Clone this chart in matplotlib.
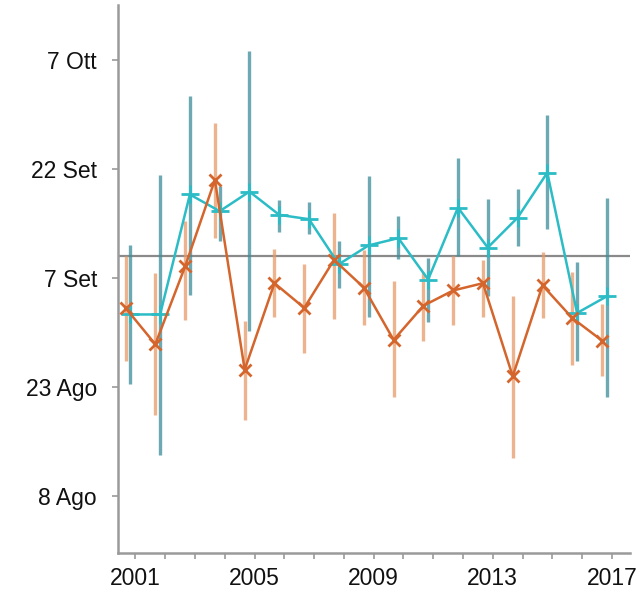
import numpy as np
import matplotlib
matplotlib.use("Agg")
import matplotlib.pyplot as plt

plt.rcParams['font.family'] = ['Liberation Sans', 'DejaVu Sans']

# anni e date (giorno dell'anno)
years = np.arange(2001, 2018)

# serie arancione: media, estremo inferiore, estremo superiore
orange_mid = [245.9, 240.9, 251.6, 263.5, 237.4, 249.3, 245.9, 252.5, 248.7,
              241.5, 246.2, 248.3, 249.3, 236.5, 249.0, 244.5, 241.4]
orange_lo = [238.6, 231.2, 244.3, 255.5, 230.5, 244.7, 239.7, 244.4, 243.6,
             233.7, 241.3, 243.5, 244.7, 225.3, 244.5, 238.1, 236.5]
orange_hi = [253.0, 250.7, 257.8, 271.3, 244.1, 254.0, 252.0, 259.0, 253.9,
             249.6, 250.9, 253.1, 252.5, 247.5, 253.6, 250.9, 246.4]

# serie azzurra
teal_mid = [245.0, 245.0, 261.5, 259.2, 261.9, 258.7, 258.1, 251.9, 254.5,
            255.5, 249.8, 259.7, 254.2, 258.3, 264.5, 245.2, 247.5]
teal_lo = [235.4, 225.7, 247.7, 255.1, 242.7, 256.3, 256.0, 248.7, 244.7,
           252.6, 243.9, 253.0, 247.5, 254.4, 256.8, 238.6, 233.7]
teal_hi = [254.6, 264.2, 275.1, 262.6, 281.2, 260.8, 260.4, 255.1, 264.1,
           258.5, 252.8, 266.5, 260.9, 262.2, 272.5, 252.2, 261.0]

ref_line = 253.1

ytick_pos = [220, 235, 250, 265, 280]
ytick_lab = ['8 Ago', '23 Ago', '7 Set', '22 Set', '7 Ott']
xtick_pos = [2001, 2005, 2009, 2013, 2017]

fig = plt.figure(figsize=(6.41, 5.92), dpi=100)
ax = fig.add_axes([0.184, 0.066, 0.799, 0.926])

x_or = years - 0.33
x_te = years - 0.17

om = np.array(orange_mid)
tm = np.array(teal_mid)

ax.axhline(ref_line, color='#8a8a8a', lw=1.6, zorder=1)

ax.vlines(x_or, orange_lo, orange_hi, color='#e89a68', alpha=0.75, lw=2.4, zorder=2)
ax.vlines(x_te, teal_lo, teal_hi, color='#3b8d99', alpha=0.75, lw=2.4, zorder=2)

ax.plot(x_te, tm, color='#2bbcc6', lw=1.8, marker='+', ms=13, mew=2, zorder=3)
ax.plot(x_or, om, color='#d4652c', lw=1.8, marker='x', ms=9, mew=2, zorder=4)

ax.set_xlim(2000.415, 2017.61)
ax.set_ylim(212.2, 287.6)
ax.set_xticks(years, minor=True)
ax.set_xticks(xtick_pos)
ax.set_yticks(ytick_pos)
ax.set_yticklabels(ytick_lab)

for s in ['top', 'right']:
    ax.spines[s].set_visible(False)
for s in ['left', 'bottom']:
    ax.spines[s].set_color('#9a9a9a')
    ax.spines[s].set_linewidth(1.8)

ax.tick_params(axis='both', which='both', color='#9a9a9a', length=4, width=1.2,
               labelsize=16.5, labelcolor='#111111')
ax.tick_params(axis='y', pad=11)
ax.tick_params(axis='x', pad=6)

fig.savefig('out.png', dpi=100)
